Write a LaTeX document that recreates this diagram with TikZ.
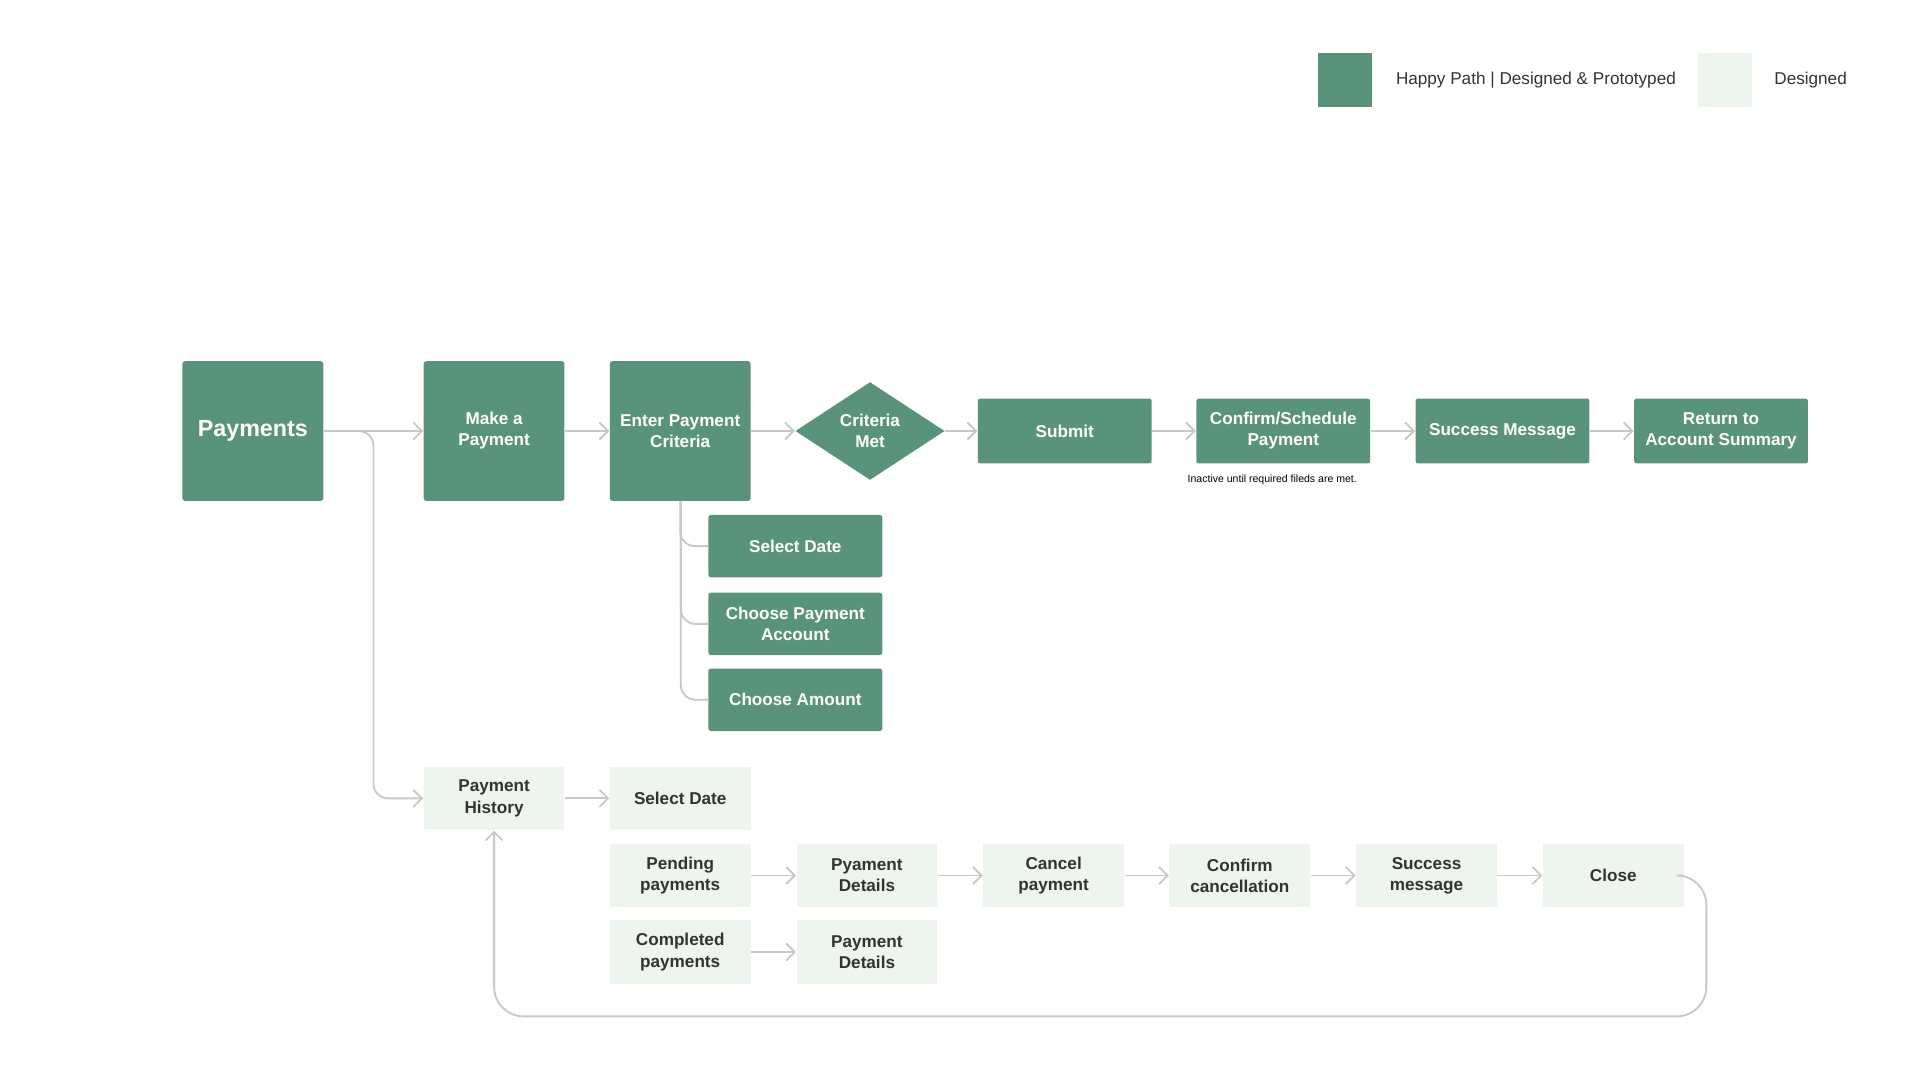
\documentclass[tikz,border=0pt]{standalone}
\usepackage{fontspec}
\setmainfont{Liberation Sans}
\usetikzlibrary{shapes.geometric,arrows.meta}
\definecolor{dg}{HTML}{5A937C}
\definecolor{lg}{HTML}{EEF4EE}
\definecolor{ln}{HTML}{C8C8C8}
\definecolor{tx}{HTML}{333333}
\begin{document}
\begin{tikzpicture}[x=0.5pt,y=-0.5pt,
  dk/.style={fill=dg,rounded corners=1pt,text=white,font=\bfseries\fontsize{7}{8.6}\selectfont,align=center,inner sep=0pt},
  lt/.style={fill=lg,text=tx,font=\bfseries\fontsize{7}{8.6}\selectfont,align=center,inner sep=0pt,minimum width=57.5pt,minimum height=26pt},
  arr/.style={draw=ln,line width=0.75pt,-{Straight Barb[length=3.5pt,width=7pt]}},
  ln/.style={draw=ln,line width=0.75pt,rounded corners=6pt}]
\useasboundingbox (0,0) rectangle (1568,882);
% legend
\node[fill=dg,minimum width=22pt,minimum height=22pt,inner sep=0pt] (lg1) at (1098.5,65.5) {};
\node[anchor=west,text=tx,font=\fontsize{7}{8}\selectfont] (lt1) at (1133,65.5) {Happy Path | Designed \& Prototyped};
\node[fill=lg,minimum width=22pt,minimum height=22pt,inner sep=0pt] (lg2) at (1408.5,65.5) {};
\node[anchor=west,text=tx,font=\fontsize{7}{8}\selectfont] (lt2) at (1442,65.5) {Designed};
% top row
\node[dk,minimum width=57.5pt,minimum height=57pt,font=\bfseries\fontsize{9.5}{11}\selectfont] (pay) at (206.5,352) {Payments};
\node[dk,minimum width=57.5pt,minimum height=57pt] (make) at (403.5,352) {Make a\\Payment};
\node[dk,minimum width=57.5pt,minimum height=57pt] (enter) at (555.5,352) {Enter Payment\\Criteria};
\node[dk,diamond,rounded corners=0pt,minimum width=61pt,minimum height=40pt,aspect=1.5] (crit) at (710.5,352) {Criteria\\Met};
\node[dk,minimum width=71pt,minimum height=26.5pt] (sub) at (869.5,352) {Submit};
\node[dk,minimum width=71pt,minimum height=26.5pt] (conf) at (1048,352) {Confirm/Schedule\\Payment};
\node[dk,minimum width=71pt,minimum height=26.5pt] (succ) at (1227,352) {Success Message};
\node[dk,minimum width=71pt,minimum height=26.5pt] (ret) at (1405.5,352) {Return to\\Account Summary};
\node[text=black,font=\fontsize{4.3}{5}\selectfont] (note) at (1039,392) {Inactive until required fileds are met.};
\draw[arr] (pay) -- (make);
\draw[arr] (make) -- (enter);
\draw[arr] (enter) -- (crit);
\draw[arr] (crit) -- (sub);
\draw[arr] (sub) -- (conf);
\draw[arr] (conf) -- (succ);
\draw[arr] (succ) -- (ret);
% sub criteria
\node[dk,minimum width=71pt,minimum height=25.5pt] (sd) at (649.5,446) {Select Date};
\node[dk,minimum width=71pt,minimum height=25.5pt] (cpa) at (649.5,509.5) {Choose Payment\\Account};
\node[dk,minimum width=71pt,minimum height=25.5pt] (ca) at (649.5,571.5) {Choose Amount};
\draw[ln] (enter.south) ++(0,0) |- (sd.west);
\draw[ln] (556,409) |- (cpa.west);
\draw[ln] (556,409) |- (ca.west);
% history
\node[lt] (ph) at (403.5,652) {Payment\\History};
\node[lt] (hsd) at (555.5,652) {Select Date};
\draw[arr,rounded corners=6pt] (pay.east) -- (305,352) |- (ph.west);
\draw[arr] (ph) -- (hsd);
\node[lt] (pend) at (555.5,715) {Pending\\payments};
\node[lt] (pd1) at (708,715) {Pyament\\Details};
\node[lt] (canc) at (860.5,715) {Cancel\\payment};
\node[lt] (cc) at (1012.5,715) {Confirm\\cancellation};
\node[lt] (sm) at (1165,715) {Success\\message};
\node[lt] (close) at (1317.5,715) {Close};
\node[lt] (comp) at (555.5,777.5) {Completed\\payments};
\node[lt] (pd2) at (708,777.5) {Payment\\Details};
\draw[arr] (pend) -- (pd1);
\draw[arr] (pd1) -- (canc);
\draw[arr] (canc) -- (cc);
\draw[arr] (cc) -- (sm);
\draw[arr] (sm) -- (close);
\draw[arr] (comp) -- (pd2);
\draw[arr,rounded corners=12pt] (close.east) -- (1393.5,715) -- (1393.5,830) -- (403.5,830) -- (ph.south);
\end{tikzpicture}
\end{document}
